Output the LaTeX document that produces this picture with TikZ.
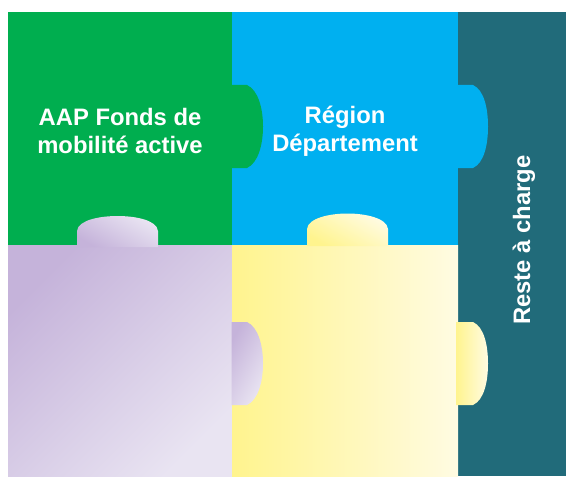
\documentclass[tikz,border=0pt]{standalone}
\usepackage{fontspec}
\setmainfont{Liberation Sans}
\definecolor{cgreen}{HTML}{00AE4F}
\definecolor{cblue}{HTML}{00B0F0}
\definecolor{cteal}{HTML}{216B7A}
\definecolor{purpD}{HTML}{C5B3DA}
\definecolor{purpL}{HTML}{E9E4F2}
\definecolor{yelD}{HTML}{FFF48E}
\definecolor{yelL}{HTML}{FFFBE2}
\tikzset{
  lbl/.style={text=white, font=\fontsize{23.8}{28}\selectfont\bfseries, align=center, inner sep=0pt},
}
\begin{document}
\begin{tikzpicture}[x=1pt,y=-1pt]
\useasboundingbox[fill=white] (0,0) rectangle (569,476);
% main pieces
\fill[cgreen] (8,12) rectangle (232,245.5);
\fill[cblue] (232,12) rectangle (458,245.5);
\fill[cteal] (458,12) rectangle (566,476);
\shade[shading=axis, top color=purpD, bottom color=purpL, shading angle=45] (8,245.5) rectangle (232,476);
\shade[left color=yelD, right color=yelL] (232,245.5) rectangle (458,476);
% right-pointing tabs
\fill[cgreen] (231,85) -- (247,85) .. controls (258,90) and (263,108) .. (263,126.5) .. controls (263,145) and (258,163) .. (247,168) -- (231,168) -- cycle;
\fill[cblue] (457,85) -- (473,85) .. controls (484,90) and (488,108) .. (488,126.5) .. controls (488,145) and (484,163) .. (473,168) -- (457,168) -- cycle;
\shade[shading=axis, top color=purpD, bottom color=purpL, shading angle=60] (231.5,322) -- (247,322) .. controls (258,327) and (263,345) .. (263,363.5) .. controls (263,382) and (258,400) .. (247,405) -- (231.5,405) -- cycle;
\shade[left color=yelD, right color=yelL] (456,322) -- (473,322) .. controls (484,327) and (488,345) .. (488,363.5) .. controls (488,382) and (484,400) .. (473,405) -- (456,405) -- cycle;
% upward tabs
\shade[shading=axis, top color=purpL, bottom color=purpD, shading angle=-30] (77,247) -- (77,231) .. controls (78,220) and (100,216) .. (117.5,216) .. controls (135,216) and (157,220) .. (158,231) -- (158,247) -- cycle;
\shade[shading=axis, top color=yelL, bottom color=yelD, shading angle=-30] (307,246) -- (307,229) .. controls (308,218) and (330,213.5) .. (347.5,213.5) .. controls (365,213.5) and (387,218) .. (388,229) -- (388,246) -- cycle;
% labels
\node[lbl] (aap) at (120,131) {AAP Fonds de\\mobilité active};
\node[lbl] (reg) at (345,131) {Région\\Département};
\node[lbl, rotate=90] (rac) at (524,240) {Reste à charge};
\end{tikzpicture}
\end{document}
